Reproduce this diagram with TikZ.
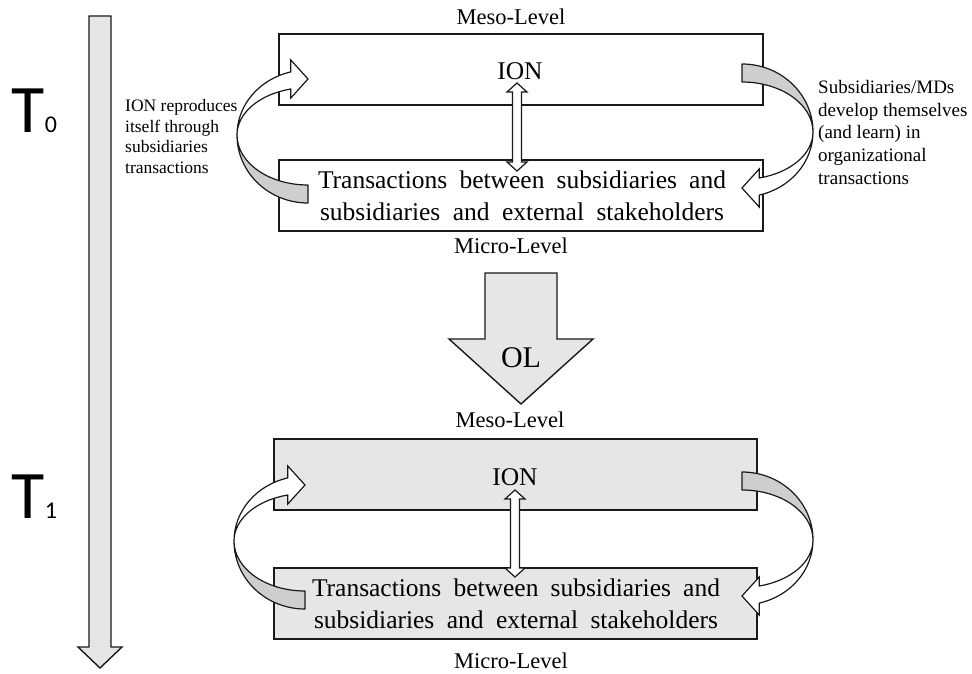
\documentclass[tikz,border=0pt]{standalone}
\usepackage{fontspec}
\setmainfont{Liberation Serif}
\newfontfamily\labelsans{Carlito}
\usetikzlibrary{calc}

\definecolor{panelgray}{RGB}{231,230,230}
\definecolor{foldgray}{RGB}{206,206,206}
\definecolor{inkblack}{RGB}{25,25,25}

\tikzset{
  levelbox/.style={draw=inkblack, line width=1.6pt, minimum width=484pt,
    minimum height=71pt, inner sep=0pt},
  blockarrow/.style={draw=inkblack, fill=panelgray, line width=1.4pt, line join=miter},
  linkarrow/.style={draw=inkblack, fill=white, line width=1.2pt, line join=miter},
  levellabel/.style={font=\fontsize{22.5}{22.5}\selectfont, anchor=base, inner sep=0pt},
  ionlabel/.style={font=\fontsize{25.5}{25.5}\selectfont, anchor=base, inner sep=0pt},
  translabel/.style={font=\fontsize{25.5}{32}\selectfont, align=center, inner sep=0pt},
  timelabel/.style={font=\labelsans\fontsize{68}{68}\selectfont, anchor=base west, inner sep=0pt},
  notelabel/.style={align=left, anchor=north west, inner sep=0pt},
  foldside/.style={draw=inkblack, fill=foldgray, line width=1.2pt, line join=round},
  faceside/.style={draw=inkblack, fill=white, line width=1.2pt, line join=miter},
  % curved block arrow: shaded back half below, open front half with head above
  pics/turnarrow/.style={code={
    \path[foldside] (0,50) .. controls (-39.2,50) and (-71,27.6) .. (-71,0)
      .. controls (-71,37.6) and (-39.2,68) .. (0,68) -- cycle;
    \path[faceside] (-71,0) .. controls (-71,-29.8) and (-48.8,-55.9) .. (-17.2,-63.1)
      -- (-17.2,-75) -- (0,-56) -- (-17.2,-37) -- (-17.2,-46)
      .. controls (-48.8,-40.7) and (-71,-21.8) .. (-71,0) -- cycle;
  }}
}

% two-headed vertical block arrow between two named points
\newcommand{\vlink}[2]{%
  \path[linkarrow] let \p1=(#1), \p2=(#2) in
    (\x1,\y1) -- (\x1+10pt,\y1-9pt) -- (\x1+4.5pt,\y1-9pt) -- (\x1+4.5pt,\y2+9pt)
    -- (\x1+10pt,\y2+9pt) -- (\x1,\y2) -- (\x1-10pt,\y2+9pt) -- (\x1-4.5pt,\y2+9pt)
    -- (\x1-4.5pt,\y1-9pt) -- (\x1-10pt,\y1-9pt) -- cycle;}

\begin{document}
\begin{tikzpicture}[x=1pt, y=-1pt]
\useasboundingbox (0,0) rectangle (972,674);

% time axis
\path[blockarrow] (89,16) -- (111,16) -- (111,647) -- (122,647) -- (100,668)
  -- (78,647) -- (89,647) -- cycle;
\node[timelabel] (t0) at (11,133) {T\kern0.5pt{\fontsize{24}{24}\selectfont 0}};
\node[timelabel] (t1) at (11,518) {T\kern0.5pt{\fontsize{24}{24}\selectfont 1}};

% ---- state T0 ----
\node[levellabel] (meso0) at (511,25) {Meso-Level};
\node[levelbox, fill=white] (top0) at (521,69.5) {};
\node[levelbox, fill=white] (bot0) at (521,195.5) {};
\node[levellabel] (micro0) at (511,253) {Micro-Level};
\node[ionlabel] (ion0) at (520,80) {ION};
\node[translabel] (trans0) at (522,196)
  {\makebox[408pt][s]{Transactions between subsidiaries and}\\
   \makebox[404pt][s]{subsidiaries and external stakeholders}};
\coordinate (lk0a) at (517,83);
\coordinate (lk0b) at (517,171);
\vlink{lk0a}{lk0b}
\pic at (308,135) {turnarrow};
\pic[rotate=180] at (742,132) {turnarrow};

\node[notelabel, font=\fontsize{17.5}{20.7}\selectfont] (noteL) at (125,99)
  {ION reproduces\\itself through\\subsidiaries\\transactions};
\node[notelabel, font=\fontsize{19}{22.7}\selectfont] (noteR) at (818,80)
  {Subsidiaries/MDs\\develop themselves\\(and learn) in\\organizational\\transactions};

% organizational learning step
\path[blockarrow] (485,273) -- (557,273) -- (557,339) -- (593,339) -- (521,404)
  -- (449,339) -- (485,339) -- cycle;
\node[font=\fontsize{30}{30}\selectfont, anchor=base, inner sep=0pt] (ol) at (521,367) {OL};

% ---- state T1 ----
\node[levellabel] (meso1) at (510,427) {Meso-Level};
\node[levelbox, fill=panelgray, minimum width=483pt] (top1) at (515.5,474.5) {};
\node[levelbox, fill=panelgray, minimum width=483pt] (bot1) at (515.5,603.5) {};
\node[levellabel] (micro1) at (511,668) {Micro-Level};
\node[ionlabel] (ion1) at (515,485) {ION};
\node[translabel] (trans1) at (516,604)
  {\makebox[408pt][s]{Transactions between subsidiaries and}\\
   \makebox[404pt][s]{subsidiaries and external stakeholders}};
\coordinate (lk1a) at (515,490);
\coordinate (lk1b) at (515,577);
\vlink{lk1a}{lk1b}
\pic at (305,541) {turnarrow};
\pic[rotate=180] at (742,540) {turnarrow};

\end{tikzpicture}
\end{document}
